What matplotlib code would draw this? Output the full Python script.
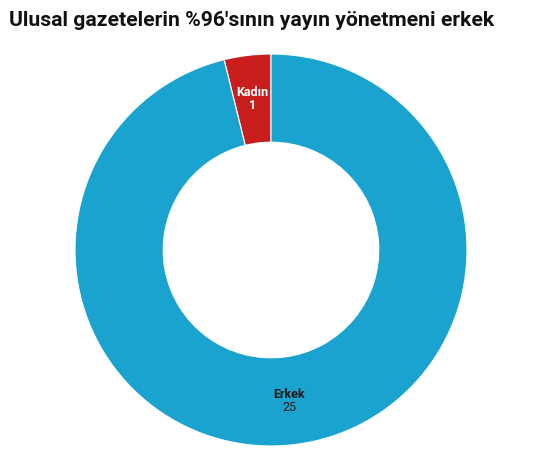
import matplotlib
matplotlib.use("Agg")
import matplotlib.pyplot as plt
import numpy as np

# data
labels = ["Kadın", "Erkek"]
values = [1, 25]
colors = ["#c81e1e", "#1aa3ce"]
label_colors = ["white", "#1a1a1a"]

plt.rcParams['font.family'] = ['Roboto', 'DejaVu Sans']

fig = plt.figure(figsize=(5.41, 4.66), dpi=100)
W, H = 541, 466
cx, cy, r = 271, 466 - 250, 196
ax = fig.add_axes([(cx - r) / W, (cy - r) / H, 2 * r / W, 2 * r / H])

wedges, _ = ax.pie(values, colors=colors, startangle=90, counterclock=True,
                   radius=1.0, wedgeprops=dict(width=0.45, edgecolor="white", linewidth=0.8))
ax.set_xlim(-1, 1)
ax.set_ylim(-1, 1)
ax.set_aspect("equal")
ax.axis("off")

# labels in the middle of each ring segment
total = sum(values)
start = 90
for lab, val, col in zip(labels, values, label_colors):
    mid = np.deg2rad(start + val / total * 360 / 2)
    start += val / total * 360
    x, y = 0.776 * np.cos(mid), 0.776 * np.sin(mid)
    ax.text(x, y + 0.031, lab, ha="center", va="center", fontsize=9,
            fontweight="bold", color=col)
    ax.text(x, y - 0.031, str(val), ha="center", va="center", fontsize=9,
            fontweight="bold" if col == "white" else "normal", color=col)

fig.text(9 / W, 1 - 20 / H, "Ulusal gazetelerin %96'sının yayın yönetmeni erkek",
         ha="left", va="center", fontsize=15.2, fontweight="bold", color="#111111")

fig.savefig("out.png", dpi=100)
